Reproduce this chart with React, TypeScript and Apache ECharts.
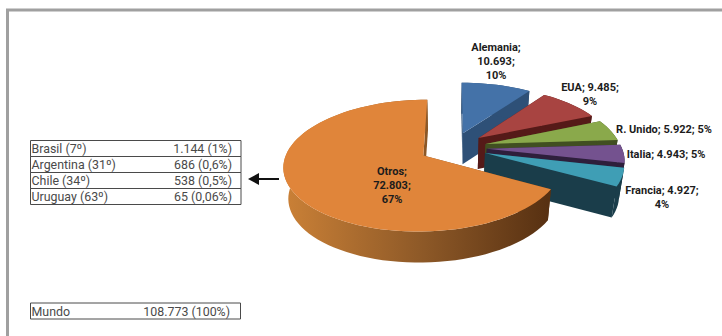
import React, { useEffect, useRef } from "react";
import * as echarts from "echarts";

// Producción mundial por país
const countries = ["Alemania", "EUA", "R. Unido", "Italia", "Francia", "Otros"];
const production = [10693, 9485, 5922, 4943, 4927, 72803];
const shares = [10, 9, 5, 5, 4, 67];
// Which separators of "name; value; share" become line breaks in each label
const breaks = [[true, true], [false, true], [false, false], [false, false], [false, true], [true, true]];

const tableNames = ["Brasil (7º)", "Argentina (31º)", "Chile (34º)", "Uruguay (63º)"];
const tableValues = ["1.144 (1%)", "686 (0,6%)", "538 (0,5%)", "65 (0,06%)"];
const worldName = "Mundo";
const worldValue = "108.773 (100%)";

const topColors = ["#4472a8", "#a84441", "#8aa94b", "#74528f", "#3f9eb5", "#e0853a"];
const wallColors = ["#2e5077", "#551a18", "#414f21", "#2e1f3c", "#1a3d4a", "#8a5a28"];
const labelAnchors = [[496, 61], [590, 94], [664, 129], [666, 154], [662, 197], [392, 185]];

const FONT = "Roboto, sans-serif";
const INK = "#4a4a4a";

// Perspective pie: unit-circle ground coordinates to screen pixels
const CX = 453;
const CY = 147.5;
const RX = 135;
const RY = 62;
const PERSP = 0.15;
const EXPLODE = 0.25;
const DEPTH = 31;
const VANISH_X = 450;
const BOTTOM_SCALE = 0.97;

type Pt = [number, number];

const project = (x: number, y: number): Pt => {
  const s = 1 / (1 - PERSP * y);
  return [CX + x * RX * s, CY + y * RY * s];
};
const drop = (p: Pt): Pt => [VANISH_X + (p[0] - VANISH_X) * BOTTOM_SCALE, p[1] + DEPTH];
const polar = (deg: number, r: number, ox: number, oy: number): Pt => {
  const a = (deg * Math.PI) / 180;
  return project(ox + r * Math.sin(a), oy - r * Math.cos(a));
};

const formatThousands = (v: number) => String(v).replace(/\B(?=(\d{3})+$)/g, ".");
const labelText = (i: number) => {
  const [a, b] = breaks[i];
  return `${countries[i]};${a ? "\n" : " "}${formatThousands(production[i])};${b ? "\n" : " "}${shares[i]}%`;
};

const total = production.reduce((a, b) => a + b, 0);
const cumulative = production.reduce<number[]>((acc, v) => [...acc, acc[acc.length - 1] + v], [0]);

const renderSlice = (_params: any, api: any) => {
  const i = api.value(0) as number;
  const start = (cumulative[i] / total) * 360;
  const sweep = (api.value(1) / total) * 360;
  const end = start + sweep;
  const mid = (start + end) / 2;
  const a = (mid * Math.PI) / 180;
  const ox = EXPLODE * Math.sin(a);
  const oy = -EXPLODE * Math.cos(a);

  const apex = project(ox, oy);
  const steps = Math.max(6, Math.ceil(sweep / 3));
  const arc: Pt[] = [];
  for (let k = 0; k <= steps; k++) arc.push(polar(start + (sweep * k) / steps, 1, ox, oy));

  const first = arc[0];
  const last = arc[arc.length - 1];
  // The large slice's rim darkens from left to right across the page
  const wallFill = i === 5
    ? new echarts.graphic.LinearGradient(290, 0, 547, 0, [
        { offset: 0, color: "#c87f36" },
        { offset: 0.5, color: "#8f5a28" },
        { offset: 1, color: "#583112" },
      ], true)
    : wallColors[i];
  const wall = (points: Pt[]) => ({
    type: "polygon",
    shape: { points },
    style: { fill: wallFill },
  });

  return {
    type: "group",
    children: [
      wall([first, apex, drop(apex), drop(first)]),
      wall([last, apex, drop(apex), drop(last)]),
      wall([...arc, ...arc.map(drop).reverse()]),
      { type: "polygon", shape: { points: [apex, ...arc] }, style: { fill: topColors[i] } },
      {
        type: "text",
        x: labelAnchors[i][0],
        y: labelAnchors[i][1],
        z2: 10,
        style: {
          text: labelText(i),
          font: `bold 11px ${FONT}`,
          fill: "#1c1c1c",
          align: "center",
          verticalAlign: "middle",
          lineHeight: 14,
        },
      },
    ],
  };
};

const tableGraphics = () => {
  const out: any[] = [];
  const L = 30.5, R = 241, T = 140.5, ROW = 16;
  const cell = `12.4px ${FONT}`;
  tableNames.forEach((n, i) => {
    const y = T + i * ROW;
    out.push({ type: "rect", shape: { x: L, y, width: R - L, height: ROW }, style: { fill: "none", stroke: INK, lineWidth: 1 } });
    out.push({ type: "text", x: 31.5, y: y + 8, style: { text: n, font: cell, fill: INK, verticalAlign: "middle", align: "left" } });
    out.push({ type: "text", x: 232, y: y + 8, style: { text: tableValues[i], font: cell, fill: INK, verticalAlign: "middle", align: "right" } });
  });
  out.push({ type: "rect", shape: { x: L, y: 303, width: 210, height: 16 }, style: { fill: "none", stroke: INK, lineWidth: 1 } });
  out.push({ type: "text", x: 31.5, y: 311.5, style: { text: worldName, font: cell, fill: INK, verticalAlign: "middle", align: "left" } });
  out.push({ type: "text", x: 230, y: 311.5, style: { text: worldValue, font: cell, fill: INK, verticalAlign: "middle", align: "right" } });
  // Arrow pointing at the table
  out.push({ type: "line", shape: { x1: 256, y1: 179, x2: 279, y2: 179 }, style: { stroke: "#111", lineWidth: 2 } });
  out.push({ type: "polygon", shape: { points: [[248, 179], [259, 173], [259, 185]] }, style: { fill: "#111" } });
  // Frame: only the top and left edges fall inside the page
  out.push({ type: "polyline", shape: { points: [[7.5, 336], [7.5, 10], [722, 10]] }, style: { fill: "none", stroke: "#a0a0a0", lineWidth: 3 } });
  return out;
};

export default function App() {
  const ref = useRef<HTMLDivElement>(null);
  useEffect(() => {
    const chart = echarts.init(ref.current!, undefined, { renderer: "svg" });
    chart.setOption({
      animation: false,
      backgroundColor: "#ffffff",
      graphic: tableGraphics(),
      series: [
        {
          type: "custom",
          coordinateSystem: "none",
          renderItem: renderSlice,
          data: production.map((v, i) => [i, v]),
          silent: true,
        },
      ],
    });
    return () => chart.dispose();
  }, []);
  return <div ref={ref} style={{ position: "fixed", left: 0, top: 0, width: 722, height: 336 }} />;
}
